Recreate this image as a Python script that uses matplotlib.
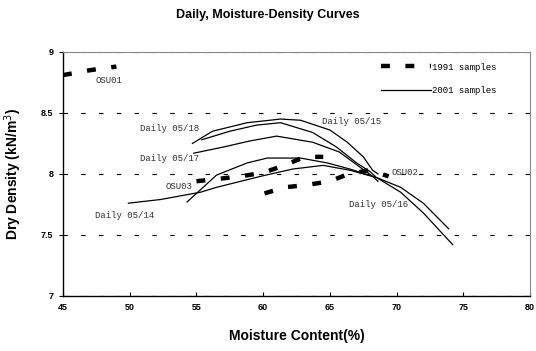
import numpy as np
import matplotlib
matplotlib.use("Agg")
import matplotlib.pyplot as plt

# 2001 samples (solid curves)
d0518_x = [54.7, 56.2, 58.8, 60.5, 61.3, 62.8, 65.0, 66.3, 67.5, 68.2, 68.6]
d0518_y = [8.25, 8.35, 8.42, 8.44, 8.45, 8.44, 8.36, 8.26, 8.14, 8.03, 8.00]

d0515_x = [55.4, 57.5, 59.5, 61.3, 63.7, 65.5, 67.0, 68.0, 68.4]
d0515_y = [8.28, 8.35, 8.40, 8.42, 8.34, 8.22, 8.09, 8.02, 7.98]

d0517_x = [54.8, 57.0, 59.0, 61.0, 63.7, 65.7, 67.2, 68.2, 68.6]
d0517_y = [8.17, 8.22, 8.27, 8.31, 8.26, 8.18, 8.06, 7.98, 7.94]

d0516_x = [54.3, 55.2, 56.5, 58.8, 60.3, 62.8, 64.8, 66.5, 68.5, 70.3, 72.0, 74.2]
d0516_y = [7.77, 7.86, 7.99, 8.09, 8.13, 8.13, 8.09, 8.04, 7.97, 7.85, 7.68, 7.42]

d0514_x = [49.9, 52.3, 55.3, 56.5, 59.8, 62.2, 64.5, 66.5, 68.5, 70.3, 72.0, 73.9]
d0514_y = [7.76, 7.79, 7.85, 7.89, 7.98, 8.04, 8.07, 8.03, 7.97, 7.89, 7.76, 7.55]

# 1991 samples (thick dashed)
osu01_x = [45.0, 47.0, 49.0]
osu01_y = [8.81, 8.85, 8.88]

osu03_x = [55.0, 56.7, 58.3, 60.0, 61.6, 63.1, 64.5]
osu03_y = [7.94, 7.96, 7.98, 8.01, 8.07, 8.14, 8.14]

osu02_x = [60.1, 61.6, 63.3, 65.0, 66.4, 68.0, 69.4]
osu02_y = [7.84, 7.89, 7.91, 7.94, 8.00, 8.03, 7.98]

labels = ["OSU01", "Daily 05/18", "Daily 05/17", "OSU03", "Daily 05/14",
          "Daily 05/15", "OSU02", "Daily 05/16"]
label_x = [47.4, 50.8, 50.8, 52.7, 47.4, 64.4, 69.6, 66.4]
label_y = [8.77, 8.37, 8.13, 7.90, 7.66, 8.43, 8.01, 7.75]

fig = plt.figure(figsize=(5.36, 3.51), dpi=100)
ax = fig.add_axes([0.1175, 0.157, 0.8715, 0.695])

dash = (0, (2, 3.5))
for xs, ys in [(osu01_x, osu01_y), (osu03_x, osu03_y), (osu02_x, osu02_y)]:
    ax.plot(xs, ys, color="black", lw=3.2, linestyle=dash, dash_capstyle="butt")
ax.plot([], [], color="black", lw=3.2, linestyle=dash, label="1991 samples")

for xs, ys in [(d0518_x, d0518_y), (d0515_x, d0515_y), (d0517_x, d0517_y),
               (d0516_x, d0516_y), (d0514_x, d0514_y)]:
    ax.plot(xs, ys, color="black", lw=0.9)
ax.plot([], [], color="black", lw=0.9, label="2001 samples")

for t, x, y in zip(labels, label_x, label_y):
    ax.text(x, y, t, fontsize=6.5, family="Liberation Mono", color="#333333",
            va="center", ha="left")

ax.set_xlim(45, 80)
ax.set_ylim(7, 9)
ax.set_xticks(np.arange(45, 81, 5))
ax.set_yticks([7, 7.5, 8, 8.5, 9])
ax.set_yticklabels(["7", "7.5", "8", "8.5", "9"])
ax.yaxis.grid(True, color="black", lw=0.8, linestyle=(0, (4, 12)))
ax.set_axisbelow(True)

for lab in ax.get_xticklabels() + ax.get_yticklabels():
    lab.set_fontsize(6.5)
    lab.set_fontweight("bold")
    lab.set_family("Liberation Sans")
ax.tick_params(axis="x", direction="in", length=3, pad=5)
ax.tick_params(axis="y", direction="out", length=3, pad=4)

ax.spines["left"].set_linewidth(1.0)
ax.spines["bottom"].set_linewidth(1.0)
for s in ["top", "right"]:
    ax.spines[s].set_color("#888888")
    ax.spines[s].set_linewidth(0.8)

ax.set_xlabel("Moisture Content(%)", fontsize=10, fontweight="bold",
              family="Liberation Sans", labelpad=12)
ax.set_ylabel("Dry Density (kN/m$^3$)", fontsize=10, fontweight="bold",
              family="Liberation Sans", labelpad=12)
fig.suptitle("Daily, Moisture-Density Curves", fontsize=9, fontweight="bold",
             family="Liberation Sans", y=0.975)

leg = ax.legend(loc="upper right", bbox_to_anchor=(0.945, 0.99), frameon=False,
                handlelength=5.5, handletextpad=0.1, labelspacing=1.6,
                prop={"family": "Liberation Mono", "size": 6.5})

fig.savefig("out.png", dpi=100)
